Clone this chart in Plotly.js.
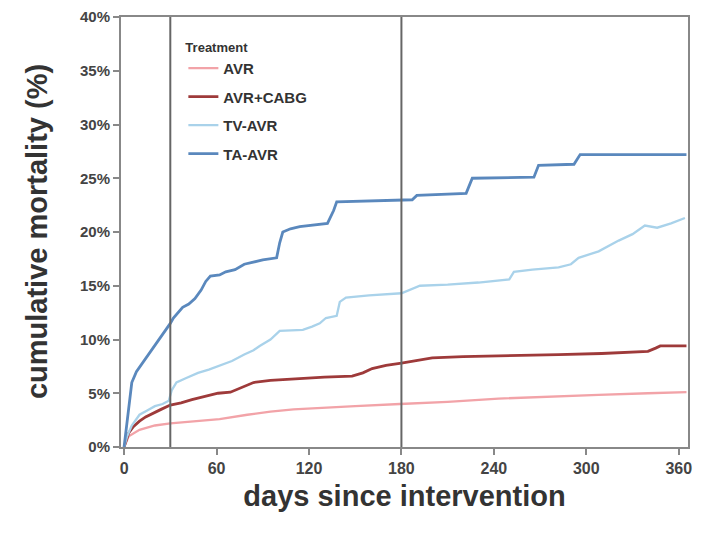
<!DOCTYPE html>
<html>
<head>
<meta charset="utf-8">
<script src="https://cdn.plot.ly/plotly-3.0.1.min.js"></script>
<style>html,body{margin:0;padding:0;background:#fff;}</style>
</head>
<body>
<div id="chart" style="width:702px;height:534px;"></div>
<script>
// Kaplan-Meier style cumulative mortality (%) by days since intervention
const avrDays = [0, 3, 10, 20, 30, 45, 62, 80, 95, 110, 127, 150, 179, 210, 243, 275, 308, 340, 365];
const avrVals = [0, 1.0, 1.6, 2.0, 2.2, 2.4, 2.6, 3.0, 3.3, 3.5, 3.6, 3.8, 4.0, 4.2, 4.5, 4.7, 4.85, 5.0, 5.1];

const cabgDays = [0, 3, 6, 10, 14, 18, 24, 30, 37, 44, 52, 61, 69, 76, 84, 95, 105, 116, 130, 148, 155, 161, 170, 180, 200, 220, 243, 282, 310, 340, 345, 348, 365];
const cabgVals = [0, 1.3, 1.9, 2.4, 2.8, 3.1, 3.5, 3.9, 4.1, 4.4, 4.7, 5.0, 5.1, 5.5, 6.0, 6.2, 6.3, 6.4, 6.5, 6.6, 6.9, 7.3, 7.6, 7.8, 8.3, 8.4, 8.5, 8.6, 8.7, 8.9, 9.2, 9.4, 9.4];

const tvDays = [0, 2, 5, 10, 15, 20, 25, 29, 31, 34, 40, 48, 55, 61, 70, 78, 84, 88, 95, 101, 110, 116, 122, 127, 131, 138, 140, 144, 159, 180, 192, 210, 230, 250, 253, 265, 282, 290, 295, 308, 321, 330, 338, 346, 355, 364];
const tvVals = [0, 1.0, 2.0, 3.0, 3.4, 3.8, 4.0, 4.3, 5.3, 6.0, 6.4, 6.9, 7.2, 7.5, 8.0, 8.6, 9.0, 9.4, 10.0, 10.8, 10.9, 10.9, 11.2, 11.5, 12.0, 12.2, 13.5, 13.9, 14.1, 14.3, 15.0, 15.1, 15.3, 15.6, 16.3, 16.5, 16.7, 17.0, 17.6, 18.2, 19.2, 19.8, 20.6, 20.4, 20.8, 21.3];

const taDays = [0, 1, 2, 3, 4, 5, 8, 12, 16, 20, 24, 28, 30, 32, 35, 38, 42, 46, 50, 53, 56, 62, 66, 72, 78, 84, 90, 99, 101, 103, 108, 114, 124, 132, 136, 138, 187, 190, 222, 226, 266, 269, 292, 296, 365];
const taVals = [0, 1.2, 2.5, 4.0, 5.2, 6.0, 7.0, 7.8, 8.6, 9.4, 10.2, 11.0, 11.5, 12.0, 12.5, 13.0, 13.3, 13.8, 14.6, 15.4, 15.9, 16.0, 16.3, 16.5, 17.0, 17.2, 17.4, 17.6, 19.0, 20.0, 20.3, 20.5, 20.7, 20.8, 22.0, 22.8, 23.0, 23.4, 23.6, 25.0, 25.1, 26.2, 26.3, 27.2, 27.2];

const seriesNames = ["AVR", "AVR+CABG", "TV-AVR", "TA-AVR"];
const seriesColors = ["#f2a3a8", "#9e3a3a", "#a9d2ea", "#5a88bd"];
const xTicks = [0, 60, 120, 180, 240, 300, 360];
const yTicks = [0, 5, 10, 15, 20, 25, 30, 35, 40];
const yTickText = yTicks.map(v => "<b>" + v + "%</b>");
const markerDays = [30, 180];

const xs = [avrDays, cabgDays, tvDays, taDays];
const ys = [avrVals, cabgVals, tvVals, taVals];

const traces = seriesNames.map((n, i) => ({
  x: xs[i], y: ys[i], name: "<b>" + n + "</b>", type: "scatter", mode: "lines",
  legendgroup: "g" + i,
  line: {color: seriesColors[i], width: i === 1 || i === 3 ? 2.8 : 2.3}
}));

const FONT = "Arial, 'Liberation Sans', sans-serif";

const layout = {
  width: 702, height: 534,
  margin: {l: 121, r: 14, t: 17, b: 87},
  paper_bgcolor: "#fff", plot_bgcolor: "#fff",
  showlegend: true,
  legend: {
    x: 0.11, y: 0.958, xanchor: "left", yanchor: "top",
    title: {text: "<b>Treatment</b>", font: {family: FONT, size: 13, color: "#333"}, side: "top"},
    font: {family: FONT, size: 15, color: "#333"},
    bgcolor: "rgba(0,0,0,0)", itemwidth: 30, tracegroupgap: 6
  },
  xaxis: {
    range: [-2, 366], tickvals: xTicks, ticktext: xTicks.map(v => "<b>" + v + "</b>"),
    ticks: "outside", ticklen: 6, tickwidth: 2, tickcolor: "#888",
    showline: true, linecolor: "#888", linewidth: 2, mirror: true,
    showgrid: false, zeroline: false,
    tickfont: {family: FONT, size: 16, color: "#444"},
    title: {text: "<b>days since intervention</b>", font: {family: FONT, size: 29, color: "#333"}, standoff: 9}
  },
  yaxis: {
    range: [0, 40], tickvals: yTicks, ticktext: yTickText,
    ticks: "outside", ticklen: 6, tickwidth: 2, tickcolor: "#888",
    showline: true, linecolor: "#888", linewidth: 2, mirror: true,
    showgrid: false, zeroline: false,
    tickfont: {family: FONT, size: 15, color: "#444"}
  },
  annotations: [{
    text: "<b>cumulative mortality (%)</b>", textangle: -90,
    xref: "paper", yref: "paper", x: -0.148, y: 0.5, xanchor: "center", yanchor: "middle",
    showarrow: false, font: {family: FONT, size: 29, color: "#333"}
  }],
  shapes: markerDays.map(d => ({
    type: "line", xref: "x", yref: "paper", x0: d, x1: d, y0: 0, y1: 1,
    line: {color: "#666", width: 2}
  }))
};

Plotly.newPlot("chart", traces, layout, {displayModeBar: false, staticPlot: true});
</script>
</body>
</html>
